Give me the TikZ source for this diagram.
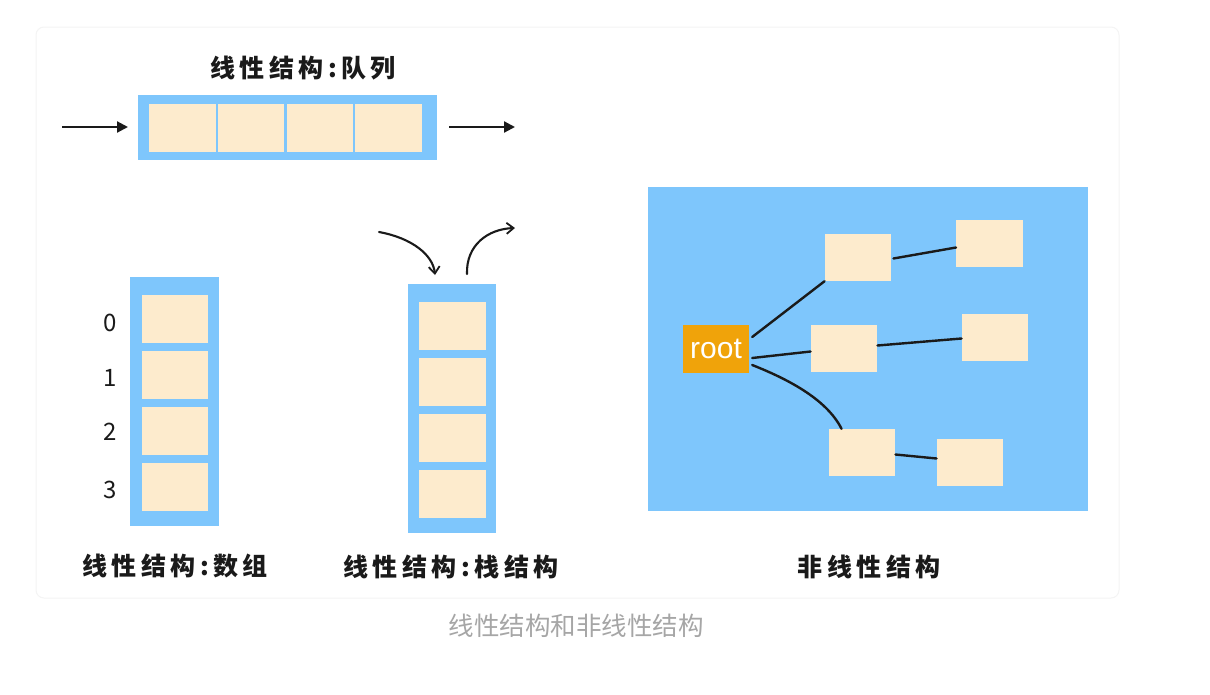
\documentclass[tikz,border=0pt]{standalone}
\usepackage{fontspec}
\usetikzlibrary{arrows.meta,calc}
\setmainfont{Liberation Sans}
\newfontfamily\cjk{Noto Sans CJK SC}
\newfontfamily\cjkhand[LetterSpace=18]{Noto Sans CJK SC}
\definecolor{bluebg}{HTML}{7EC6FC}
\definecolor{cream}{HTML}{FDEBCD}
\definecolor{rootorange}{HTML}{F0A30A}
\definecolor{framegray}{HTML}{F4F4F4}
\definecolor{capgray}{HTML}{A6A6A6}
\definecolor{ink}{HTML}{1A1A1A}
\tikzset{
  holder/.style={fill=bluebg, draw=none, inner sep=0pt},
  cell/.style={fill=cream, draw=none, inner sep=0pt, minimum width=66.5pt, minimum height=48pt},
  title/.style={font=\cjkhand\bfseries\fontsize{25}{28}\selectfont, text=ink, inner sep=0pt},
  idx/.style={font=\cjk\fontsize{24}{26}\selectfont, text=ink, inner sep=0pt},
  straightarrow/.style={draw=ink, line width=2.2pt, -{Triangle[length=11pt,width=11pt]}},
  curvearrow/.style={draw=ink, line width=2.1pt, line cap=round, -{Straight Barb[length=7pt,width=11pt,line width=1.8pt]}},
  edge/.style={draw=ink, line width=2.4pt, line cap=round},
}
\begin{document}
\begin{tikzpicture}[x=1pt,y=-1pt]
\useasboundingbox (0,0) rectangle (1210,694);
\fill[white] (0,0) rectangle (1210,694);
% faint frame
\draw[framegray, line width=1pt, rounded corners=8pt] (36,27) rectangle (1119,598);

% ---------- queue ----------
\node[title] (tq) at (303,68) {线性结构:队列};
\node[holder, minimum width=299pt, minimum height=65pt] (q) at (287.5,127.5) {};
\node[cell] (q1) at (182.5,127.5) {};
\node[cell] (q2) at (251,127.5) {};
\node[cell] (q3) at (320,127.5) {};
\node[cell] (q4) at (388.5,127.5) {};
\coordinate (qinA) at (62,127);
\coordinate (qinB) at (128,127);
\coordinate (qoutA) at (449,127);
\coordinate (qoutB) at (515,127);
\draw[straightarrow] (qinA) -- (qinB);
\draw[straightarrow] (qoutA) -- (qoutB);

% ---------- array ----------
\node[holder, minimum width=89pt, minimum height=249pt] (arr) at (174.5,401.5) {};
\node[cell, minimum width=66pt] (a0) at (175,319) {};
\node[cell, minimum width=66pt] (a1) at (175,375) {};
\node[cell, minimum width=66pt] (a2) at (175,431) {};
\node[cell, minimum width=66pt] (a3) at (175,487) {};
\node[idx] (i0) at (110,323) {0};
\node[idx] (i1) at (110,378) {1};
\node[idx] (i2) at (110,432) {2};
\node[idx] (i3) at (110,490) {3};
\node[title] (ta) at (175,566) {线性结构:数组};

% ---------- stack ----------
\node[holder, minimum width=88pt, minimum height=249pt] (stk) at (452,408.5) {};
\node[cell, minimum width=67pt] (s0) at (452.5,326) {};
\node[cell, minimum width=67pt] (s1) at (452.5,382) {};
\node[cell, minimum width=67pt] (s2) at (452.5,438) {};
\node[cell, minimum width=67pt] (s3) at (452.5,494) {};
\coordinate (pushA) at (379,232);
\coordinate (pushB) at (435,275);
\coordinate (popA) at (467,274);
\coordinate (popB) at (515,228);
\draw[curvearrow] (pushA) .. controls (412,238) and (433,255) .. (pushB);
\draw[curvearrow] (popA) .. controls (466,245) and (488,229) .. (popB);
\node[title] (ts) at (451,567) {线性结构:栈结构};

% ---------- tree ----------
\node[holder, minimum width=440pt, minimum height=324pt] (tree) at (868,349) {};
\node[fill=rootorange, inner sep=0pt, minimum width=66pt, minimum height=48pt,
      text=white, font=\fontsize{30}{31}\selectfont] (root) at (716,349) {root};
\node[cell, minimum height=47pt] (A) at (858,257.5) {};
\node[cell, minimum height=47pt] (B) at (989.5,243.5) {};
\node[cell, minimum height=47pt] (C) at (844,348.5) {};
\node[cell, minimum height=47pt] (D) at (995,337.5) {};
\node[cell, minimum height=47pt] (E) at (862,452.5) {};
\node[cell, minimum height=47pt] (F) at (970,462.5) {};
\draw[edge] ($(root.east)+(3,-12)$) -- (A.south west);
\draw[edge] ($(root.east)+(3,9)$) -- ($(C.west)+(0,3)$);
\draw[edge] ($(root.east)+(3,16)$) .. controls (785,378) and (826,398) .. ($(E.north west)+(13,0)$);
\draw[edge] ($(A.east)+(2,1)$) -- ($(B.west)+(0,4)$);
\draw[edge] ($(C.east)+(0,-3)$) -- ($(D.west)+(0,1)$);
\draw[edge] ($(E.east)+(0,2)$) -- ($(F.west)+(0,-4)$);
\node[title] (tn) at (869,567) {非线性结构};

% ---------- caption ----------
\node[font=\cjk\fontsize{25.5}{28}\selectfont, text=capgray, inner sep=0pt] (cap) at (576,626) {线性结构和非线性结构};
\end{tikzpicture}
\end{document}
